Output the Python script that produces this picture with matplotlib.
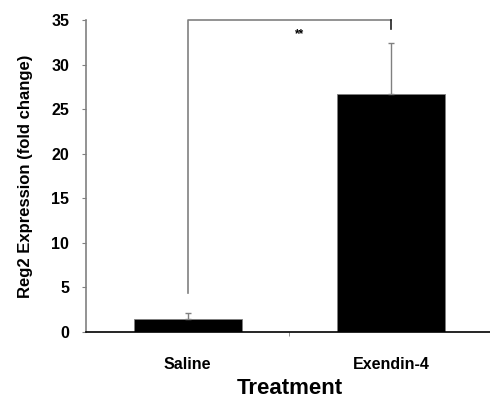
import matplotlib
matplotlib.use("Agg")
import matplotlib.pyplot as plt

categories = ["Saline", "Exendin-4"]
values = [1.5, 26.7]
errors = [0.6, 5.7]
yticks = [0, 5, 10, 15, 20, 25, 30, 35]
bracket_x = [0, 0, 1, 1]
bracket_y = [4.4, 35, 35, 34.0]
sig_label = "**"
sig_pos = (0.55, 33.4)

plt.rcParams['font.family'] = ['Liberation Sans', 'DejaVu Sans']
fig = plt.figure(figsize=(4.9, 3.98), dpi=100)
ax = fig.add_axes([0.1755, 0.1658, 0.8305, 0.7839])

x = list(range(len(categories)))
ax.bar(x, values, width=0.53, color='black', edgecolor='#808080', linewidth=0.6, zorder=2)
ax.errorbar(x, values, yerr=[[0, 0], errors], fmt='none', ecolor='#808080',
            elinewidth=1, capsize=2, capthick=1, zorder=3)

ax.plot(bracket_x[:3], bracket_y[:3], color='#808080', lw=1.2, clip_on=False, zorder=4)
ax.plot(bracket_x[2:], bracket_y[2:], color='#202020', lw=1.2, clip_on=False, zorder=4)
ax.text(sig_pos[0], sig_pos[1], sig_label, ha='center', va='center', fontsize=8.5, fontweight='bold')

ax.set_xlim(-0.5, 1.5)
ax.set_ylim(0, 35)
ax.set_yticks(yticks)
ax.set_xticks(x)
ax.set_xticklabels(categories, fontsize=11.5, fontweight='bold')
ax.set_xticks([0.5], minor=True)
ax.tick_params(axis='x', which='major', length=0, pad=18)
ax.tick_params(axis='x', which='minor', length=3, direction='out', color='#808080')
ax.tick_params(axis='y', length=3, direction='out', color='#808080', pad=9, labelsize=11.5)
for lab in ax.get_yticklabels():
    lab.set_fontweight('bold')

for s in ['top', 'right']:
    ax.spines[s].set_visible(False)
ax.spines['left'].set_color('#808080')
ax.spines['left'].set_linewidth(1.2)
ax.spines['bottom'].set_color('black')
ax.spines['bottom'].set_linewidth(1.2)

ax.set_ylabel("Reg2 Expression (fold change)", fontsize=12, fontweight='bold', labelpad=13)
ax.set_xlabel("Treatment", fontsize=16, fontweight='bold', labelpad=4)

fig.savefig("out.png", dpi=100)
